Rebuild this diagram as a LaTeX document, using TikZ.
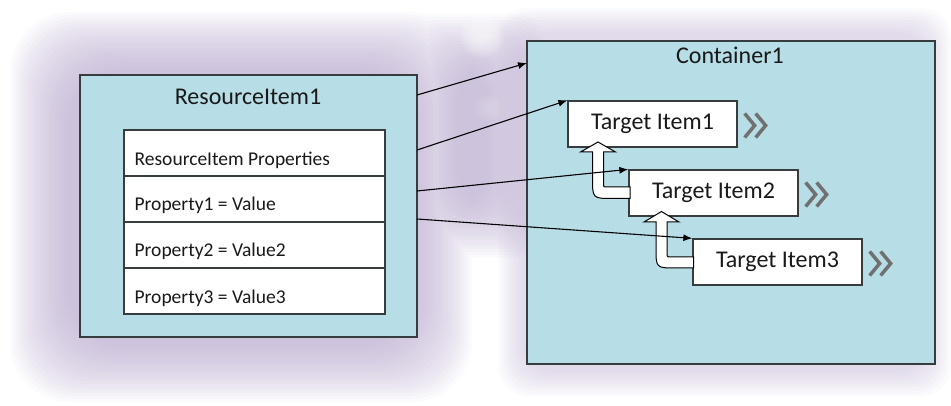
\documentclass[tikz,border=0pt]{standalone}
\usepackage{fontspec}
\setmainfont{Carlito}
\usetikzlibrary{arrows.meta,calc}
\definecolor{boxblue}{RGB}{183,221,230}
\definecolor{edgegray}{RGB}{55,60,62}
\definecolor{halo}{RGB}{182,166,204}
\definecolor{chev}{RGB}{112,112,112}
\definecolor{txt}{RGB}{25,25,25}
\begin{document}
\begin{tikzpicture}[x=1pt,y=-1pt,
  bigbox/.style={draw=edgegray, line width=1.3pt, fill=boxblue, inner sep=0pt},
  rowbox/.style={draw=edgegray, line width=1.1pt, fill=white, minimum width=261pt, minimum height=46pt, inner sep=0pt},
  rowtext/.style={font=\fontsize{19.5}{22}\selectfont, text=txt, anchor=base west, inner sep=0pt},
  titletext/.style={font=\fontsize{24}{28}\selectfont, text=txt, anchor=base, inner sep=0pt},
  target/.style={draw=edgegray, line width=1.3pt, fill=white, minimum width=169pt, minimum height=46pt, inner sep=0pt, font=\fontsize{24}{28}\selectfont, text=txt},
  link/.style={draw=black, line width=1.1pt, -{Latex[length=9pt,width=7pt]}},
  hollow/.style={draw=black, line width=1pt, fill=white, line join=miter},
  chevline/.style={draw=chev, line width=3.5pt, line join=miter}]
\useasboundingbox (0,0) rectangle (951,406);
% background halo
\foreach \d in {0,3,...,57} {
  \fill[halo, opacity=0.055] [rounded corners=60pt] (10+\d,12+\d) rectangle (472-\d,402-\d)
    [rounded corners=30pt] (400+\d,14+\d) rectangle (545-\d,258-\d);
}
\foreach \d in {0,3,...,24} {
  \fill[halo, opacity=0.055, rounded corners=30pt] (498+\d,8+\d) rectangle (951-\d,396-\d);
}
\foreach \r in {22,21,...,1} {
  \fill[white, opacity=0.05] (482,36) circle (\r);
}
\foreach \r in {14,13,...,1} {
  \fill[white, opacity=0.025] (488,108) circle (\r);
}
% main boxes
\node[bigbox, minimum width=337pt, minimum height=262pt] (r1) at (248.5,206) {};
\node[bigbox, minimum width=408pt, minimum height=323pt] (c1) at (731,202.5) {};
\node[titletext] (r1t) at (248,105) {ResourceItem1};
\node[titletext] (c1t) at (730,64) {Container1};
% property rows
\node[rowbox] (p0) at (254.5,153) {};
\node[rowbox] (p1) at (254.5,199) {};
\node[rowbox] (p2) at (254.5,245) {};
\node[rowbox] (p3) at (254.5,291) {};
\node[rowtext] (p0t) at ($(p0.west)+(11,13)$) {ResourceItem Properties};
\node[rowtext] (p1t) at ($(p1.west)+(11,12)$) {Property1 = Value};
\node[rowtext] (p2t) at ($(p2.west)+(11,12)$) {Property2 = Value2};
\node[rowtext] (p3t) at ($(p3.west)+(11,12)$) {Property3 = Value3};
% target items
\node[target] (t1) at (652.5,124) {Target Item1};
\node[target] (t2) at (713.5,193) {Target Item2};
\node[target] (t3) at (777.5,262) {Target Item3};
% chevrons
\foreach \t in {t1,t2,t3} {
  \draw[chevline] ($(\t.east)+(7,-10.5)$) -- ++(10,12) -- ++(-10,12);
  \draw[chevline] ($(\t.east)+(18,-10.5)$) -- ++(10,12) -- ++(-10,12);
}
% hollow bent arrows
\draw[hollow] (630,187) -- (607,187) .. controls (603.5,187) .. (603.5,183.5) -- (603.5,152)
  -- (615.5,152) -- (598,142) -- (580.5,152) -- (592.5,152) -- (592.5,178)
  .. controls (592.5,198.5) .. (612.5,198.5) -- (630,198.5) -- cycle;
\draw[hollow] (693.5,257) -- (671,257) .. controls (667,257) .. (667,253) -- (667,222)
  -- (679,222) -- (661.5,211.5) -- (644,222) -- (656,222) -- (656,248)
  .. controls (656,268) .. (676,268) -- (693.5,268) -- cycle;
% links
\coordinate (s1) at (417,95);
\coordinate (s2) at (417,150);
\coordinate (s3) at (417,191);
\coordinate (s4) at (417,219);
\coordinate (e1) at (527,63);
\draw[link] (s1) -- (e1);
\draw[link] (s2) -- (t1.north west);
\draw[link] (s3) -- (t2.north west);
\draw[link] (s4) -- (t3.north west);
\end{tikzpicture}
\end{document}
